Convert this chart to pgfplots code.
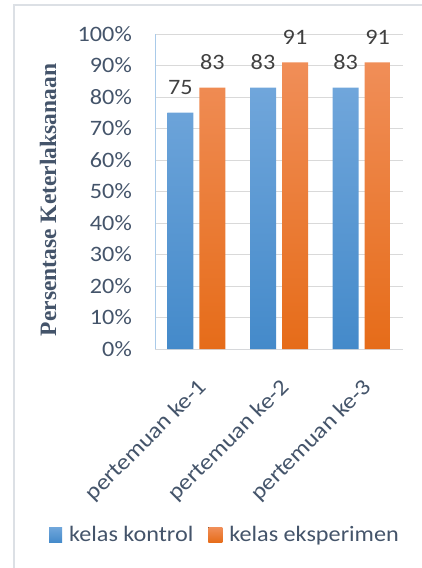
\documentclass[border=0pt]{standalone}
\usepackage{pgfplots}
\pgfplotsset{compat=1.18}
\usepackage{fontspec}
\setmainfont{Carlito}[FakeStretch=1.1]
\newfontfamily\titlefont{Liberation Serif}
\definecolor{tickc}{HTML}{44546A}
\definecolor{labc}{HTML}{404040}
\definecolor{gridc}{HTML}{D9D9D9}
\definecolor{frame}{HTML}{DCE0E5}
\definecolor{bluetop}{RGB}{112,166,219}
\definecolor{bluebot}{RGB}{68,138,202}
\definecolor{orgtop}{RGB}{240,142,88}
\definecolor{orgbot}{RGB}{230,108,25}
\begin{document}
\begin{tikzpicture}
\useasboundingbox (0pt,0pt) rectangle (422pt,568pt);
\draw[frame, line width=2pt] (13.5pt,-20pt) rectangle (450pt,563pt);
\begin{axis}[
  at={(155pt,219pt)}, anchor=south west,
  scale only axis, width=248pt, height=315pt,
  ymin=0, ymax=100, ytick={0,10,...,100},
  yticklabel={\pgfmathprintnumber{\tick}\%},
  /pgf/number format/assume math mode=true,
  xmin=-0.5, xmax=2.5, xtick={0,1,2},
  xticklabels={pertemuan ke-1,pertemuan ke-2,pertemuan ke-3},
  ybar=6pt, bar width=26pt,
  axis x line*=bottom, axis y line*=left,
  x axis line style={draw=gridc!80!tickc!60, line width=1pt, -},
  y axis line style={draw=bluetop!60, line width=1pt, -},
  major tick length=0pt,
  ymajorgrids, grid style={gridc, line width=0.8pt},
  tick label style={font=\fontsize{22}{26}\selectfont, text=tickc},
  yticklabel style={inner sep=0pt, anchor=east, xshift=-23pt},
  xticklabel style={inner sep=0pt, anchor=north east, xshift=0pt, yshift=-28pt, rotate=45,
    font=\fontsize{22.5}{26}\selectfont},
  ylabel={Persentase Keterlaksanaan},
  every axis y label/.style={at={(axis description cs:-0.431,0.473)}, rotate=90, anchor=center,
    font=\titlefont\bfseries\fontsize{23.5}{28}\selectfont, text=tickc},
  nodes near coords,
  every node near coord/.append style={font=\fontsize{22}{26}\selectfont, text=labc,
    anchor=south, inner sep=0pt, yshift=17.5pt},
  legend columns=2,
  legend style={at={(axis description cs:0.278,-0.59)}, anchor=center, draw=none, fill=none,
    font=\fontsize{22}{26}\selectfont, text=tickc, nodes={inner sep=0pt},
    /tikz/every odd column/.append style={column sep=7pt},
    /tikz/every even column/.append style={column sep=15pt}},
]
\addplot[draw=none, top color=bluetop, bottom color=bluebot,
  legend image code/.code={\fill[top color=bluetop, bottom color=bluebot] (0pt,-7.5pt) rectangle (13pt,7.5pt);}]
  coordinates {(0,75) (1,83) (2,83)};
\addplot[draw=none, top color=orgtop, bottom color=orgbot,
  legend image code/.code={\fill[top color=orgtop, bottom color=orgbot] (0pt,-7.5pt) rectangle (14pt,7.5pt);}]
  coordinates {(0,83) (1,91) (2,91)};
\legend{kelas kontrol, kelas eksperimen}
\end{axis}
\end{tikzpicture}
\end{document}
